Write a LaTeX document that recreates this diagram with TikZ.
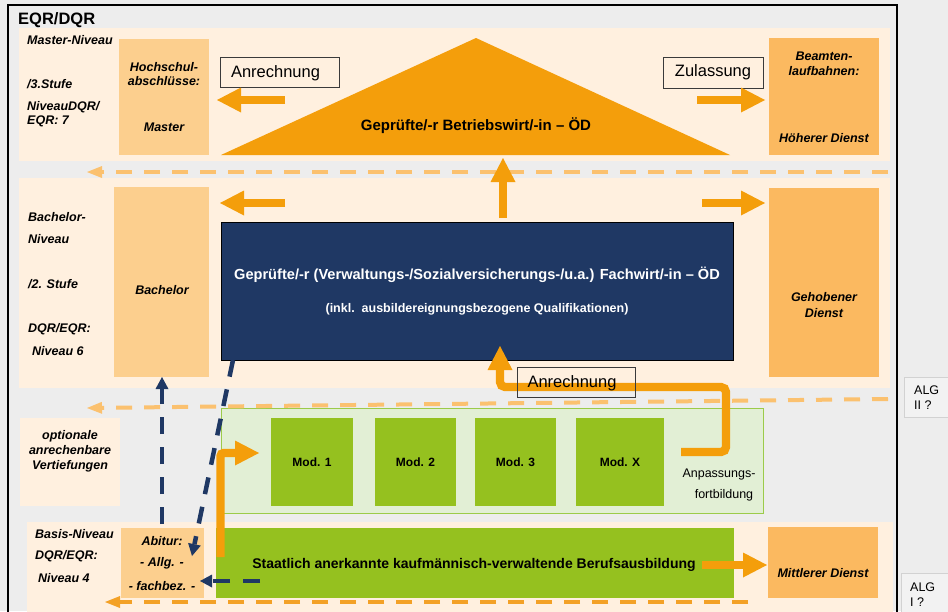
\documentclass[tikz,border=0pt]{standalone}
\usepackage{fontspec}
\setmainfont{Liberation Sans}
\usetikzlibrary{arrows.meta,calc}

\definecolor{bggray}{HTML}{EDEDED}
\definecolor{cream}{HTML}{FFF0DF}
\definecolor{lorange}{HTML}{FCCF8E}
\definecolor{morange}{HTML}{FBB960}
\definecolor{aorange}{HTML}{F49E0B}
\definecolor{ldashc}{HTML}{FBC16F}
\definecolor{ddashc}{HTML}{F3A126}
\definecolor{navy}{HTML}{1F3864}
\definecolor{mgreen}{HTML}{95C11F}
\definecolor{lgreen}{HTML}{E2EFD5}
\definecolor{lgreenline}{HTML}{9CCB4A}
\definecolor{algfill}{HTML}{F2F2F2}
\definecolor{algline}{HTML}{D2D2D2}
\definecolor{tagline}{HTML}{3A3A3A}

\begin{document}
\begin{tikzpicture}[x=1pt,y=-1pt,
  lab/.style={font=\fontsize{12.5}{14}\selectfont\bfseries\itshape, inner sep=0pt},
  labl/.style={lab, anchor=west},
  plain/.style={font=\fontsize{12.5}{14}\selectfont, inner sep=0pt},
  blk/.style={rectangle, inner sep=0pt, outer sep=0pt, anchor=north west},
  band/.style={blk, fill=cream},
  tagbox/.style={rectangle, draw=tagline, line width=0.9pt, inner sep=0pt,
    font=\fontsize{16.5}{18}\selectfont},
  modbox/.style={blk, fill=mgreen, minimum height=88, font=\fontsize{12}{14}\selectfont\bfseries},
  bigarrow/.style={draw=aorange, line width=8.3pt,
    -{Triangle[length=24pt,width=25pt,line width=0pt]}},
  ldash/.style={draw=ldashc, line width=4pt, dash pattern=on 16pt off 12pt,
    -{Triangle[length=15pt,width=12pt,line width=0pt]}},
  ddash/.style={draw=ddashc, line width=4pt, dash pattern=on 16pt off 12pt,
    -{Triangle[length=15pt,width=12pt,line width=0pt]}},
  ndash/.style={draw=navy, line width=4.5pt, dash pattern=on 17pt off 13pt,
    -{Triangle[length=12pt,width=13pt,line width=0pt]}},
  algbox/.style={blk, fill=algfill, draw=algline, line width=1pt}
]
\useasboundingbox (0,0) rectangle (948,611);
\clip (0,0) rectangle (948,611);
\fill[bggray] (0,0) rectangle (948,611);

% outer frame
\draw[line width=1.1pt] (8,640) -- (8,5) -- (897,5) -- (897,640);
\node[font=\fontsize{16.5}{18}\selectfont\bfseries, anchor=west, inner sep=0pt] (title) at (18,20) {EQR/DQR};

% level bands
\node[band, minimum width=871, minimum height=133] (masterband) at (19,28) {};
\node[band, minimum width=871, minimum height=210] (bachband) at (19,178) {};
\node[band, minimum width=866, minimum height=100] (basisband) at (27,522) {};
\node[band, minimum width=100, minimum height=88] (optbox) at (20,418) {};

% ---------- Master level ----------
\node[labl] (mst1) at (27,40) {Master-Niveau};
\node[labl] (mst2) at (27,84) {/3.Stufe};
\node[labl] (mst3) at (27,107) {NiveauDQR/};
\node[labl] (mst4) at (27,121) {EQR: 7};

\node[blk, fill=lorange, minimum width=90, minimum height=116] (hoch) at (119,39) {};
\node[lab] (hoch1) at (164,67) {Hochschul-};
\node[lab] (hoch2) at (164,81) {abschlüsse:};
\node[lab] (hoch3) at (164,127) {Master};

\node[blk, fill=morange, minimum width=110, minimum height=117] (beamt) at (769,38) {};
\node[lab] (beamt1) at (824,56) {Beamten-};
\node[lab] (beamt2) at (824,71) {laufbahnen:};
\node[lab] (beamt3) at (824,138) {Höherer Dienst};

\fill[aorange] (476,38) -- (730,155) -- (221,155) -- cycle;
\node[font=\fontsize{15}{17}\selectfont\bfseries, inner sep=0pt] (betriebswirt) at (476,126)
  {Geprüfte/-r Betriebswirt/-in – ÖD};

\node[tagbox, minimum width=119, minimum height=30] (anr1) at (279.5,72.5) {};
\node[inner sep=0pt, font=\fontsize{16.5}{18}\selectfont] (anr1t) at (275.5,73) {Anrechnung};
\node[tagbox, minimum width=100, minimum height=31] (zul) at (713,72.5) {Zulassung};

% ---------- Bachelor level ----------
\node[labl] (bac1) at (28,217) {Bachelor-};
\node[labl] (bac2) at (28,239) {Niveau};
\node[labl] (bac3) at (28,284) {/2. Stufe};
\node[labl] (bac4) at (28,329) {DQR/EQR:};
\node[labl] (bac5) at (32,351) {Niveau 6};

\node[blk, fill=lorange, minimum width=95, minimum height=190] (bachelor) at (114,187) {};
\node[lab] (bachelort) at (162,290) {Bachelor};

\node[blk, fill=morange, minimum width=110, minimum height=189] (gehoben) at (769,188) {};
\node[lab] (gehoben1) at (824,297) {Gehobener};
\node[lab] (gehoben2) at (824,313) {Dienst};

\node[blk, fill=navy, draw=black, line width=0.8pt, minimum width=512, minimum height=138] (fachwirt) at (221,222) {};
\node[font=\fontsize{14.6}{17}\selectfont\bfseries, text=white, inner sep=0pt] (fachwirt1) at (477,275)
  {Geprüfte/-r (Verwaltungs-/Sozialversicherungs-/u.a.) Fachwirt/-in – ÖD};
\node[font=\fontsize{12.5}{14}\selectfont\bfseries, text=white, inner sep=0pt] (fachwirt2) at (477,309)
  {(inkl.\ \ ausbildereignungsbezogene Qualifikationen)};

% ---------- Anpassungsfortbildung ----------
\node[lab, align=center, font=\fontsize{12.5}{15}\selectfont\bfseries\itshape] (opt) at (70,451)
  {optionale\\anrechenbare\\Vertiefungen};

\node[blk, fill=lgreen, draw=lgreenline, line width=0.9pt, minimum width=542, minimum height=105] (anpass) at (221,408) {};
\node[modbox, minimum width=82] (mod1) at (271,418) {Mod. 1};
\node[modbox, minimum width=81] (mod2) at (375,418) {Mod. 2};
\node[modbox, minimum width=81] (mod3) at (475,418) {Mod. 3};
\node[modbox, minimum width=88] (modx) at (576,418) {Mod. X};
\node[plain] (anp1) at (719,474) {Anpassungs-};
\node[plain] (anp2) at (724,495) {fortbildung};

% ---------- Basis level ----------
\node[labl] (bas1) at (35,534) {Basis-Niveau};
\node[labl] (bas2) at (35,556) {DQR/EQR:};
\node[labl] (bas3) at (38,578) {Niveau 4};

\node[blk, fill=lorange, minimum width=83, minimum height=70] (abitur) at (121,528) {};
\node[lab] (abitur1) at (162,541) {Abitur:};
\node[lab] (abitur2) at (162,563) {- Allg. -};
\node[lab] (abitur3) at (162,586) {- fachbez. -};

\node[blk, fill=mgreen, minimum width=518, minimum height=70] (beruf) at (216,528) {};
\node[font=\fontsize{14}{16}\selectfont\bfseries, inner sep=0pt] (beruft) at (474,565)
  {Staatlich anerkannte kaufmännisch-verwaltende Berufsausbildung};

\node[blk, fill=morange, minimum width=110, minimum height=71] (mittler) at (768,527) {};
\node[lab] (mittlert) at (823,573) {Mittlerer Dienst};

% ---------- side notes ----------
\node[algbox, minimum width=60, minimum height=40] (alg2) at (904,377) {};
\node[plain, anchor=west] (alg2a) at (914,390) {ALG};
\node[plain, anchor=west] (alg2b) at (914,405) {II ?};
\node[algbox, minimum width=60, minimum height=60] (alg1) at (901,573) {};
\node[plain, anchor=west] (alg1a) at (910,587) {ALG};
\node[plain, anchor=west] (alg1b) at (910,602) {I ?};

% ---------- dashed level borders ----------
\coordinate (d1r) at (888,172);
\coordinate (d1l) at (87,172);
\coordinate (d2r) at (888,399);
\coordinate (d2l) at (87,408);
\coordinate (d3r) at (748,602);
\coordinate (d3l) at (105,602);
\draw[ldash] (d1r) -- (d1l);
\draw[ldash] (d2r) -- (d2l);
\draw[ddash] (d3r) -- (d3l);

% ---------- navy dashed links ----------
\coordinate (n1s) at (162,524);
\coordinate (n1e) at (162,377);
\coordinate (n2s) at (233,360);
\coordinate (n2e) at (192,556);
\coordinate (n3s) at (260,581);
\coordinate (n3e) at (200,581);
\draw[ndash] (n1s) -- (n1e);
\draw[ndash] (n2s) -- (n2e);
\draw[ndash] (n3s) -- (n3e);

% ---------- orange block arrows ----------
\coordinate (a1s) at (285,100);
\coordinate (a1e) at (217,100);
\coordinate (a2s) at (697,100);
\coordinate (a2e) at (765,100);
\coordinate (a3s) at (285,203);
\coordinate (a3e) at (220,203);
\coordinate (a4s) at (503,218);
\coordinate (a4e) at (503,158);
\coordinate (a5s) at (702,203);
\coordinate (a5e) at (765,203);
\coordinate (a6s) at (702,565);
\coordinate (a6e) at (767,565);
\draw[bigarrow] (a1s) -- (a1e);
\draw[bigarrow] (a2s) -- (a2e);
\draw[bigarrow] (a3s) -- (a3e);
\draw[bigarrow] (a4s) -- (a4e);
\draw[bigarrow] (a5s) -- (a5e);
\draw[bigarrow] (a6s) -- (a6e);

% modules count towards the Fachwirt exam
\coordinate (c1s) at (681,452);
\coordinate (c1e) at (500,346);
\draw[bigarrow, rounded corners=5pt] (c1s) -- (726,452) -- (726,387) -- (500,387) -- (c1e);
\node[tagbox, minimum width=118, minimum height=30] (anr2) at (576,382.5) {};
\node[inner sep=0pt, font=\fontsize{16.5}{18}\selectfont] (anr2t) at (572,383) {Anrechnung};

% vocational training leads into the modules
\coordinate (c2s) at (220.5,557);
\coordinate (c2e) at (259,453);
\draw[bigarrow, rounded corners=3pt] (c2s) -- (220.5,453) -- (c2e);

\end{tikzpicture}
\end{document}
